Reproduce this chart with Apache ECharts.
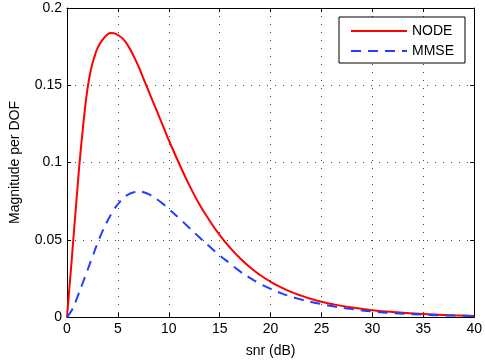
<!DOCTYPE html>
<html><head><meta charset="utf-8">
<script src="https://cdn.jsdelivr.net/npm/echarts@6/dist/echarts.min.js"></script>
<style>html,body{margin:0;padding:0;background:#fff}#c{width:485px;height:363px}</style>
</head><body><div id="c"></div>
<script>
const nodeX = [0,0.25,0.5,0.75,1,1.25,1.5,1.75,2,2.25,2.5,2.75,3,3.5,4,4.3,4.6,5,5.5,6,6.5,7,7.5,8,8.5,9,9.5,10,11,12,13,14,15,16,17,18,19,20,21,22,23,24,25,26,28,30,32,35,38,40];
const nodeY = [0,0.020,0.040,0.061,0.081,0.101,0.118,0.134,0.147,0.157,0.164,0.1695,0.174,0.1795,0.183,0.1838,0.1836,0.1825,0.180,0.1755,0.1695,0.1625,0.1545,0.1465,0.1385,0.1305,0.1225,0.1145,0.0995,0.0855,0.073,0.0625,0.053,0.045,0.038,0.032,0.027,0.0228,0.0193,0.0163,0.0138,0.0117,0.0099,0.0084,0.0061,0.0044,0.0032,0.0019,0.0011,0.0007];
const mmseX = [0,0.5,1,1.5,2,2.5,3,3.5,4,4.5,5,5.5,6,6.5,7,7.5,8,8.5,9,9.5,10,11,12,13,14,15,16,17,18,19,20,21,22,23,24,25,26,28,30,32,35,38,40];
const mmseY = [0,0.0047,0.0125,0.0212,0.0300,0.0390,0.0477,0.0557,0.0625,0.0683,0.0730,0.0766,0.0792,0.0806,0.0812,0.0808,0.0795,0.0777,0.0754,0.0728,0.0700,0.0640,0.0578,0.0516,0.0456,0.0399,0.0347,0.0295,0.0252,0.0214,0.0182,0.0155,0.0132,0.0113,0.0097,0.0084,0.0071,0.0051,0.0036,0.0025,0.0015,0.0009,0.0006];
const xTicks = [0,5,10,15,20,25,30,35,40];
const yTicks = [0,0.05,0.1,0.15,0.2];
const seriesNames = ['NODE','MMSE'];

const font = 'Liberation Sans, Helvetica, Arial, sans-serif';
const chart = echarts.init(document.getElementById('c'));
const split = {show:true, lineStyle:{color:'#444', type:[1,7], width:1}};
const tick = {show:true, inside:true, length:4, lineStyle:{color:'#000'}};
const line = {show:true, onZero:false, lineStyle:{color:'#000', width:1}};
const xBase = {type:'value', min:xTicks[0], max:xTicks[xTicks.length-1], interval:5};
const yBase = {type:'value', min:yTicks[0], max:yTicks[yTicks.length-1], interval:0.05};
chart.setOption({
  animation:false,
  grid: {left:62, right:9, top:8, bottom:44},
  legend:{
    orient:'vertical', left:339, top:17, padding:[7,11,5,11], itemGap:6,
    itemWidth:56, itemHeight:14, borderColor:'#000', borderWidth:1, backgroundColor:'#fff',
    itemStyle:{opacity:0},
    textStyle:{fontFamily:font, fontSize:14, color:'#000'},
    data: seriesNames
  },
  xAxis:[Object.assign({}, xBase, {
    position:'bottom',
    name:'snr (dB)', nameLocation:'middle', nameGap:27,
    nameTextStyle:{fontFamily:font, fontSize:14, color:'#000'},
    axisLine:line, axisTick:tick,
    axisLabel:{fontFamily:font, fontSize:14, color:'#000', margin:5},
    splitLine: split
  }), Object.assign({}, xBase, {
    position:'top', axisLine:line, axisTick:tick, axisLabel:{show:false}, splitLine:{show:false}
  })],
  yAxis:[Object.assign({}, yBase, {
    position:'left',
    name:'Magnitude per DOF', nameLocation:'middle', nameGap:45,
    nameTextStyle:{fontFamily:font, fontSize:14, color:'#000'},
    axisLine:line, axisTick:tick,
    axisLabel:{fontFamily:font, fontSize:14, color:'#000', margin:5,
      formatter:v=>String(parseFloat(v.toFixed(2)))},
    splitLine: split
  }), Object.assign({}, yBase, {
    position:'right', axisLine:line, axisTick:tick, axisLabel:{show:false}, splitLine:{show:false}
  })],
  series:[
    {name:seriesNames[0], type:'line', smooth:0.5, symbol:'none', showSymbol:false,
     data: nodeX.map((x,i)=>[x,nodeY[i]]),
     lineStyle:{color:'#ff0000', width:2}, itemStyle:{color:'#ff0000'}, z:3},
    {name:seriesNames[1], type:'line', smooth:0.5, symbol:'none', showSymbol:false,
     data: mmseX.map((x,i)=>[x,mmseY[i]]),
     lineStyle:{color:'#2040ff', width:2, type:[10,7]}, itemStyle:{color:'#2040ff'}, z:4}
  ]
});
</script></body></html>
